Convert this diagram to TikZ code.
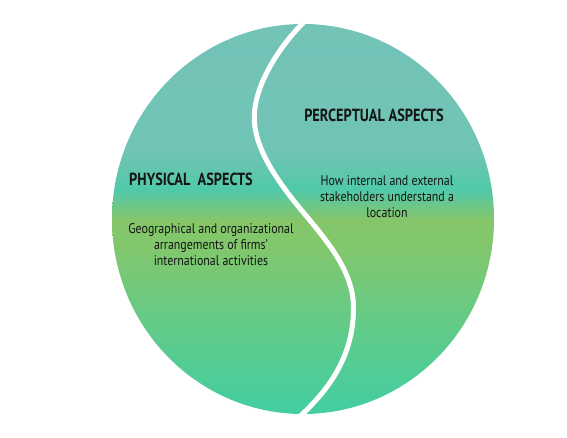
\documentclass[tikz,border=0pt]{standalone}
\usepackage{fontspec}
\usetikzlibrary{shapes.geometric}
\setmainfont{PT Sans}[FakeStretch=0.85]
\newfontfamily\titlef{PT Sans}[FakeStretch=0.82]
\definecolor{c0}{HTML}{73C3B7}
\definecolor{c1}{HTML}{70C4B5}
\definecolor{c2}{HTML}{62C6AE}
\definecolor{c3}{HTML}{50C9A9}
\definecolor{c4}{HTML}{6CC788}
\definecolor{c5}{HTML}{85C66A}
\definecolor{c6}{HTML}{82C76C}
\definecolor{c7}{HTML}{6CCA80}
\definecolor{c8}{HTML}{55CC92}
\definecolor{c9}{HTML}{43CEA2}
\definecolor{ink}{HTML}{141414}
\pgfdeclareverticalshading{circgrad}{100bp}{color(0bp)=(c9); color(25bp)=(c9); color(31.92bp)=(c8); color(39.62bp)=(c7); color(46.67bp)=(c6); color(49.87bp)=(c5); color(51.8bp)=(c4); color(53.72bp)=(c3); color(56.28bp)=(c2); color(58.85bp)=(c1); color(75bp)=(c0); color(100bp)=(c0)}
\tikzset{
  titletext/.style={font=\titlef\bfseries\fontsize{17.5}{20}\selectfont, text=ink, inner sep=0pt},
  bodytext/.style={font=\fontsize{14}{16}\selectfont, text=ink, align=center, inner sep=0pt},
}
\begin{document}
\begin{tikzpicture}[x=1pt,y=-1pt]
\useasboundingbox (0,0) rectangle (567,438);
\node[ellipse, minimum width=382pt, minimum height=390pt, inner sep=0pt, shading=circgrad] (disc) at (303,219) {};
\begin{scope}
\clip (303,219) ellipse [x radius=191, y radius=195];
\draw[white, line width=5pt] (306,20) .. controls (280,45) and (254,85) .. (254.3,118)
  .. controls (254.3,150) and (280,185) .. (306.8,216.6)
  .. controls (333,248) and (353.5,275) .. (353.5,308)
  .. controls (353.5,350) and (335,385) .. (298,418);
\end{scope}
\node[titletext] (phys) at (191,179) {PHYSICAL\ \ ASPECTS};
\node[titletext] (perc) at (374,115) {PERCEPTUAL ASPECTS};
\node[bodytext] (physd) at (211,245) {Geographical and organizational\\arrangements of firms’\\international activities};
\node[bodytext] (percd) at (387,197) {How internal and external\\stakeholders understand a\\location};
\end{tikzpicture}
\end{document}
